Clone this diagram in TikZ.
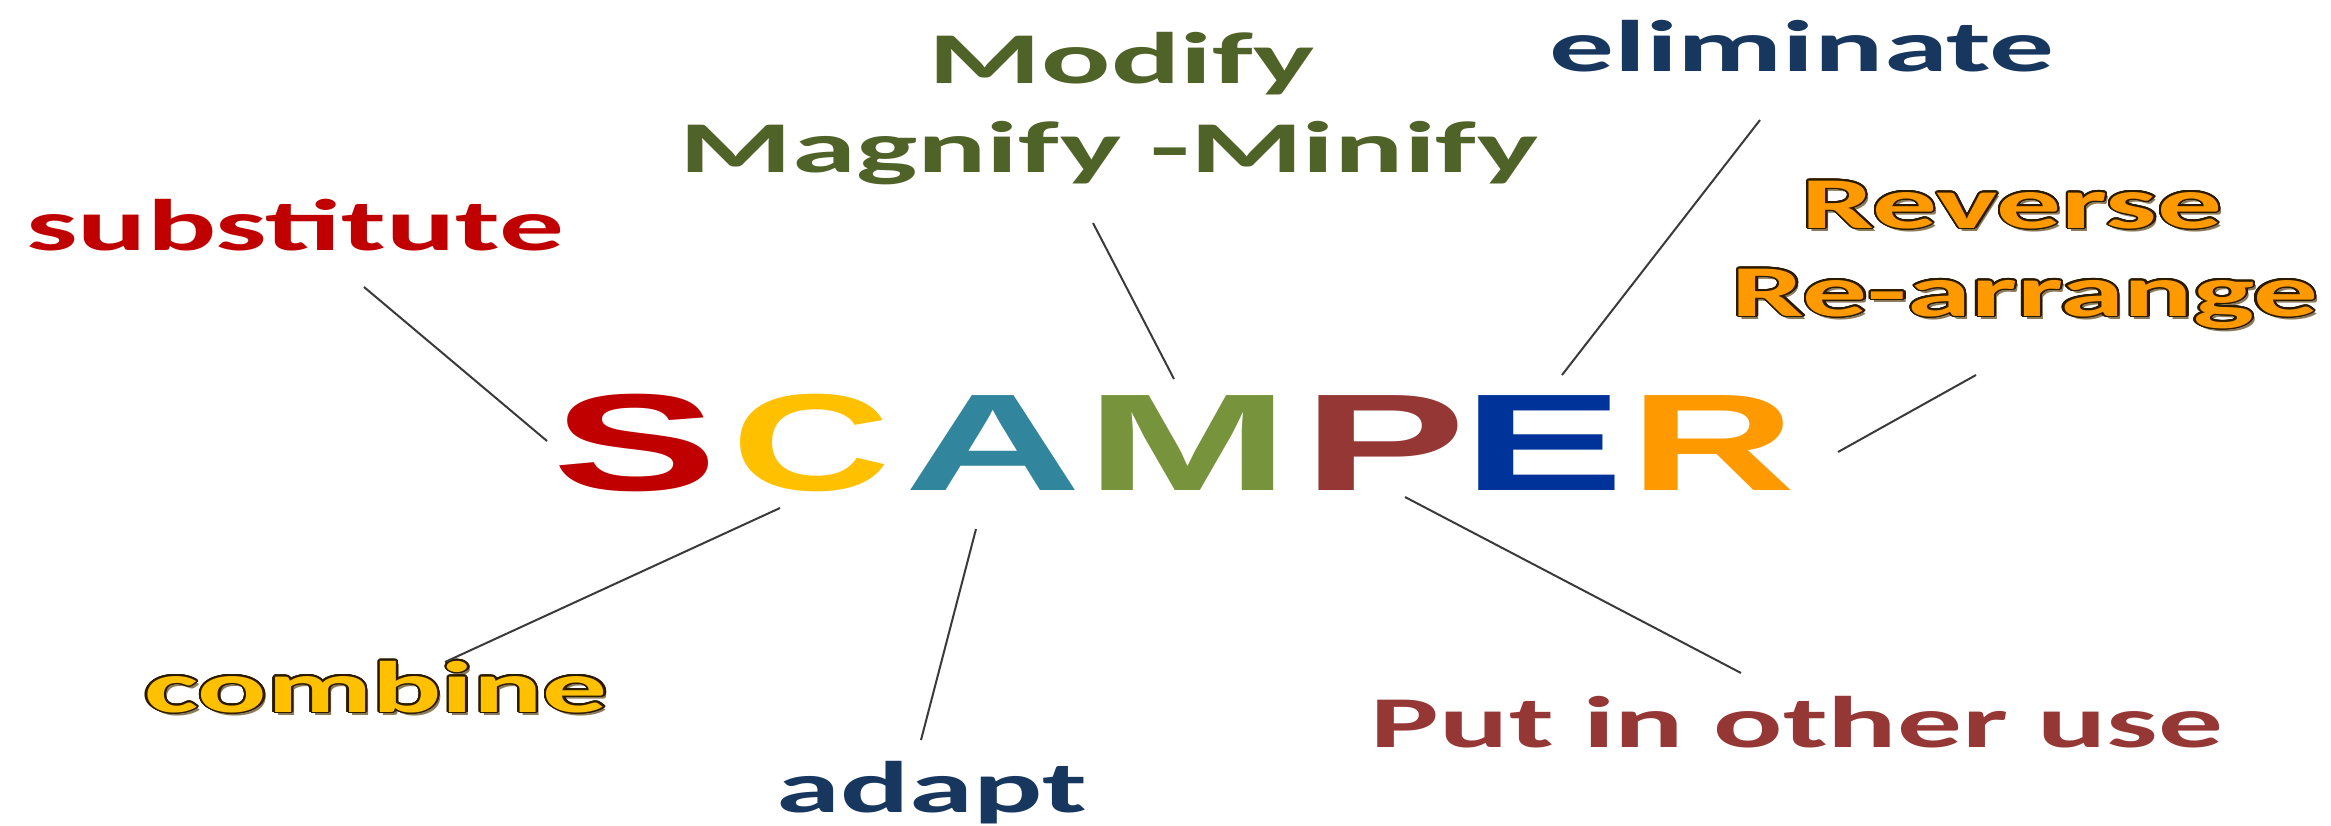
\documentclass[tikz,border=0pt]{standalone}
\usepackage{fontspec}
\usepackage{graphicx}
\usepackage{contour}
\newfontfamily\labfont{Carlito}
\newfontfamily\scfont{Liberation Sans}
\contourlength{1.3pt}
\contournumber{24}
\definecolor{cred}{HTML}{C00000}
\definecolor{colive}{HTML}{4F6228}
\definecolor{cnavy}{HTML}{17375E}
\definecolor{corange}{HTML}{FF9900}
\definecolor{cyellow}{HTML}{FFC000}
\definecolor{cbrown}{HTML}{953735}
\definecolor{cteal}{HTML}{31859C}
\definecolor{cgreen}{HTML}{77933C}
\definecolor{cblue}{HTML}{003399}
\definecolor{linegray}{HTML}{3A3A3A}
\definecolor{shadowbrown}{HTML}{8A7A5A}
\definecolor{outl}{HTML}{2A1A00}
\newcommand\stretchtxt[1]{\scalebox{1.77}[1]{#1}}
\newcommand\stretchbig[2]{\scalebox{#1}[1]{#2}}
\tikzset{
  lab/.style={font=\labfont\bfseries\fontsize{73}{80}\selectfont, inner sep=0pt, anchor=base},
  big/.style={font=\scfont\bfseries\fontsize{138}{140}\selectfont, inner sep=0pt, anchor=base},
  conn/.style={draw=linegray, line width=2pt},
}
\begin{document}
\begin{tikzpicture}[x=1pt,y=-1pt]
\useasboundingbox (0,0) rectangle (2331,825);
% SCAMPER letters
\node[big, text=cred]    (S) at (635,490)  {\stretchbig{1.80}{S}};
\node[big, text=cyellow] (C) at (811,490)  {\stretchbig{1.60}{C}};
\node[big, text=cteal]   (A) at (993,490)  {\stretchbig{1.78}{A}};
\node[big, text=cgreen]  (M) at (1188,490) {\stretchbig{1.78}{M}};
\node[big, text=cbrown]  (P) at (1384,490) {\stretchbig{1.78}{P}};
\node[big, text=cblue]   (E) at (1543,490) {\stretchbig{1.76}{E}};
\node[big, text=corange] (R) at (1713,490) {\stretchbig{1.67}{R}};
% labels
\node[lab, text=cred]   (sub) at (295,250)  {\stretchtxt{substitute}};
\node[lab, text=colive] (mod1) at (1122,83) {\stretchtxt{Modify}};
\node[lab, text=colive] (mod2) at (1109,172) {\stretchtxt{Magnify -Minify}};
\node[lab, text=cnavy]  (eli) at (1802,71)  {\stretchtxt{eliminate}};
\node[lab, text=shadowbrown] (rev1s) at (2015,231) {\stretchtxt{Reverse}};
\node[lab, text=corange] (rev1) at (2012,228) {\stretchtxt{\contour{outl}{Reverse}}};
\node[lab, text=shadowbrown] (rev2s) at (2028,319) {\stretchtxt{Re-arrange}};
\node[lab, text=corange] (rev2) at (2025,316) {\stretchtxt{\contour{outl}{Re-arrange}}};
\node[lab, text=shadowbrown] (combs) at (379,715) {\stretchtxt{combine}};
\node[lab, text=cyellow] (comb) at (376,712) {\stretchtxt{\contour{outl}{combine}}};
\node[lab, text=cnavy]  (ada) at (932,812)  {\stretchtxt{adapt}};
\node[lab, text=cbrown] (put) at (1797,747) {\stretchtxt{Put in other use}};
% connector ends
\coordinate (sA) at (364,287);  \coordinate (sB) at (547,441);
\coordinate (mA) at (1093,223); \coordinate (mB) at (1174,379);
\coordinate (eA) at (1760,120); \coordinate (eB) at (1562,375);
\coordinate (rA) at (1976,375); \coordinate (rB) at (1838,452);
\coordinate (cA) at (780,508);  \coordinate (cB) at (445,662);
\coordinate (aA) at (976,529);  \coordinate (aB) at (921,740);
\coordinate (pA) at (1405,497); \coordinate (pB) at (1741,673);
\draw[conn] (sA) -- (sB);
\draw[conn] (mA) -- (mB);
\draw[conn] (eA) -- (eB);
\draw[conn] (rA) -- (rB);
\draw[conn] (cA) -- (cB);
\draw[conn] (aA) -- (aB);
\draw[conn] (pA) -- (pB);
\end{tikzpicture}
\end{document}
